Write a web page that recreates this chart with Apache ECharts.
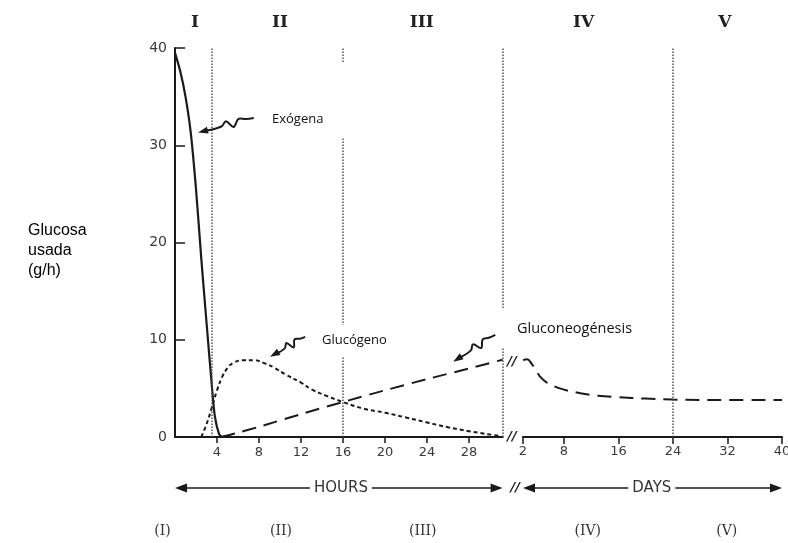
<!DOCTYPE html>
<html><head><meta charset="utf-8">
<script src="https://cdn.jsdelivr.net/npm/echarts@6/dist/echarts.min.js"></script>
<style>html,body{margin:0;padding:0;background:#fff}#c{width:788px;height:543px}</style>
</head><body><div id="c"></div>
<script>
// ---- data ----
const hourTicks = [4, 8, 12, 16, 20, 24, 28];
const dayTicks = [2, 8, 16, 24, 32, 40];
const phaseNames = ['I', 'II', 'III', 'IV', 'V'];
const phaseBoundsHours = [3.5, 16, 31.2];
const phaseBoundsDays = [24];
const exogenaHours = [[0,39.5],[0.5,37.6],[1,35],[1.5,31.3],[2,25.5],[2.5,18.4],[3,11.8],[3.5,5.4],[3.8,2.1],[4.2,0.3],[4.5,0]];
const glucogenoHours = [[2.5,0],[3,1.3],[3.5,3],[4,4.8],[4.5,6.2],[5,7.1],[5.5,7.6],[6.5,7.9],[7.5,7.9],[8.5,7.6],[9.5,7.1],[10.5,6.45],[12,5.6],[13,4.9],[14.5,4.2],[16,3.6],[18,2.9],[20,2.5],[22,2.0],[24,1.5],[26,1.0],[28,0.6],[30,0.25],[31,0.1]];
const gluconeoHours = [[4.4,0],[5,0.15],[6,0.45],[8,1.05],[12,2.35],[16,3.6],[20,4.8],[24,5.95],[28,7.05],[31.2,7.95]];
const gluconeoDays = [[2,7.9],[2.6,8.0],[3.3,7.5],[4,6.8],[4.5,6.2],[5.5,5.6],[7.4,5.0],[10.4,4.5],[13,4.25],[16,4.1],[20,3.95],[24,3.85],[32,3.8],[40,3.8]];
// phase label positions: [gridIndex, x value]
const phaseTop = [[0,1.9],[0,10],[0,23.5],[1,10.9],[1,31.6]];
const phaseBottom = [[0,-1.2],[0,10.1],[0,23.6],[1,11.5],[1,31.9]];
// annotations (hours-grid data coords)
const notes = [
  {text:'Exógena', size:13, label:[9.24,32.7], tip:[2.2,31.3], tail:[7.5,32.8], box:[-10,-57,90,75]},
  {text:'Glucógeno', size:13, label:[14.0,9.97], tip:[9.05,8.25], tail:[12.4,10.3], box:[-22,-15,100,32]},
  {text:'Gluconeogénesis', size:14.5, label:[32.57,11.1], tip:[26.5,7.75], tail:[30.5,10.5], box:[-20,-21,148,39]}
];

const ink = '#1a1a1a';
const axisFont = 'DejaVu Sans';
const chart = echarts.init(document.getElementById('c'));

const dotted = {type:'dotted', color:'#555', width:1.5};
function bounds(list){ return list.map(v => ({xAxis: v})); }

const option = {
  animation: false,
  backgroundColor: '#fff',
  grid: [
    {left:175, top:48, width:327.6, height:389, outerBoundsMode:'none', containLabel:false},
    {left:523, top:48, width:259, height:389, outerBoundsMode:'none', containLabel:false}
  ],
  xAxis: [
    {type:'value', gridIndex:0, min:0, max:31.2,
     axisLine:{lineStyle:{color:ink, width:2}},
     axisTick:{show:true, customValues:hourTicks, length:6, lineStyle:{color:ink, width:1.5}},
     axisLabel:{customValues:hourTicks, color:'#3a3a3a', fontSize:13, fontFamily:axisFont, margin:9},
     splitLine:{show:false}},
    {type:'value', gridIndex:1, min:2, max:40,
     axisLine:{lineStyle:{color:ink, width:2}},
     axisTick:{show:true, customValues:dayTicks, length:7, lineStyle:{color:ink, width:1.5}},
     axisLabel:{customValues:dayTicks, color:'#3a3a3a', fontSize:13, fontFamily:axisFont, margin:8},
     splitLine:{show:false}}
  ],
  yAxis: [
    {type:'value', gridIndex:0, min:0, max:40, interval:10,
     axisLine:{show:true, lineStyle:{color:ink, width:2}},
     axisTick:{show:true, inside:true, length:10, lineStyle:{color:ink, width:1.5}},
     axisLabel:{color:'#3a3a3a', fontSize:14, fontFamily:axisFont, margin:8},
     splitLine:{show:false}},
    {type:'value', gridIndex:1, min:0, max:40, show:false, splitLine:{show:false}}
  ],
  series: [
    {name:'Exógena', type:'line', xAxisIndex:0, yAxisIndex:0, data:exogenaHours, smooth:0.3,
     symbol:'none', lineStyle:{color:ink, width:2.2},
     markLine:{silent:true, symbol:'none', label:{show:false}, lineStyle:dotted, data:bounds(phaseBoundsHours)}},
    {name:'Glucógeno', type:'line', xAxisIndex:0, yAxisIndex:0, data:glucogenoHours, smooth:0.4,
     symbol:'none', lineStyle:{color:ink, width:2, type:[4,3]}},
    {name:'Gluconeogénesis', type:'line', xAxisIndex:0, yAxisIndex:0, data:gluconeoHours, smooth:0.3,
     symbol:'none', lineStyle:{color:ink, width:2, type:[14,8]}},
    {name:'Gluconeogénesis (días)', type:'line', xAxisIndex:1, yAxisIndex:1, data:gluconeoDays, smooth:0.4,
     symbol:'none', lineStyle:{color:ink, width:2, type:[14,8]},
     markLine:{silent:true, symbol:'none', label:{show:false}, lineStyle:dotted, data:bounds(phaseBoundsDays)}}
  ]
};
chart.setOption(option);

function P(g, x, y){ return chart.convertToPixel({gridIndex:g}, [x, y]); }
const els = [];
const Z = 100;

// label boxes & texts
notes.forEach(n => {
  const a = P(0, n.label[0], n.label[1]);
  els.push({type:'rect', z:Z, shape:{x:a[0]+n.box[0], y:a[1]+n.box[1], width:n.box[2], height:n.box[3]}, style:{fill:'#fff'}});
  els.push({type:'text', z:Z+1, x:a[0], y:a[1], style:{text:n.text, fontSize:n.size, fontFamily:'Open Sans', fill:'#111', textVerticalAlign:'middle', textAlign:'left'}});
  // squiggle arrow
  const t = P(0, n.tip[0], n.tip[1]), e = P(0, n.tail[0], n.tail[1]);
  const dx = e[0]-t[0], dy = e[1]-t[1], L = Math.hypot(dx, dy);
  const ux = dx/L, uy = dy/L, vx = -uy, vy = ux;
  const shape = [[0.12,0],[0.42,0],[0.52,-4],[0.62,3.5],[0.74,-3],[0.86,-1],[1,0]];
  const pts = shape.map(s => [t[0]+ux*s[0]*L+vx*s[1], t[1]+uy*s[0]*L+vy*s[1]]);
  els.push({type:'polyline', z:Z+2, shape:{points:pts, smooth:0.4}, style:{stroke:ink, lineWidth:2, fill:null}});
  els.push({type:'polygon', z:Z+2, shape:{points:[t,[t[0]+ux*10+vx*3.5, t[1]+uy*10+vy*3.5],[t[0]+ux*10-vx*3.5, t[1]+uy*10-vy*3.5]]}, style:{fill:ink}});
});

// phase numerals
phaseTop.forEach((p, i) => {
  const a = P(p[0], p[1], 42.6);
  els.push({type:'text', z:Z, x:a[0], y:a[1], style:{text:phaseNames[i], fontSize:17, fontWeight:'bold', fontFamily:'DejaVu Serif', fill:'#222', textAlign:'center', textVerticalAlign:'middle'}});
});
phaseBottom.forEach((p, i) => {
  const a = P(p[0], p[1], -9.7);
  els.push({type:'text', z:Z, x:a[0], y:a[1], style:{text:'(' + phaseNames[i] + ')', fontSize:14, fontFamily:'DejaVu Serif', fill:'#333', textAlign:'center', textVerticalAlign:'middle'}});
});

// HOURS / DAYS double arrows
function dblArrow(g, x0, x1, yv, label, xm){
  const a = P(g, x0, yv), b = P(g, x1, yv), m = P(g, xm, yv);
  const y = a[1];
  els.push({type:'line', z:Z, shape:{x1:a[0]+6, y1:y, x2:b[0]-6, y2:y}, style:{stroke:ink, lineWidth:1.6}});
  els.push({type:'polygon', z:Z, shape:{points:[[a[0],y],[a[0]+12,y-4.5],[a[0]+12,y+4.5]]}, style:{fill:ink}});
  els.push({type:'polygon', z:Z, shape:{points:[[b[0],y],[b[0]-12,y-4.5],[b[0]-12,y+4.5]]}, style:{fill:ink}});
  els.push({type:'text', z:Z+1, x:m[0], y:y, style:{text:label, fontSize:15, fontFamily:axisFont, fill:'#333', textAlign:'center', textVerticalAlign:'middle', backgroundColor:'#fff', padding:[2,4]}});
}
dblArrow(0, 0, 31.2, -5.24, 'HOURS', 15.8);
dblArrow(1, 2, 40, -5.24, 'DAYS', 20.9);

// axis break marks
[[32.1,0],[32.1,7.7],[32.4,-5.24]].forEach(b => {
  const a = P(0, b[0], b[1]);
  els.push({type:'text', z:Z+2, x:a[0], y:a[1], style:{text:'//', fontSize:13, fontWeight:'bold', fontStyle:'italic', fontFamily:axisFont, fill:ink, textAlign:'center', textVerticalAlign:'middle'}});
});

// y-axis title
els.push({type:'text', z:Z, left:28, top:221, style:{text:'Glucosa\nusada\n(g/h)', fontSize:16, lineHeight:20, fontFamily:'Liberation Sans', fill:'#000'}});
els.push({type:'rect', z:Z+1, shape:{x:20, y:284, width:80, height:20}, style:{fill:'#fff'}});

chart.setOption({graphic:{elements:els}});
</script></body></html>
